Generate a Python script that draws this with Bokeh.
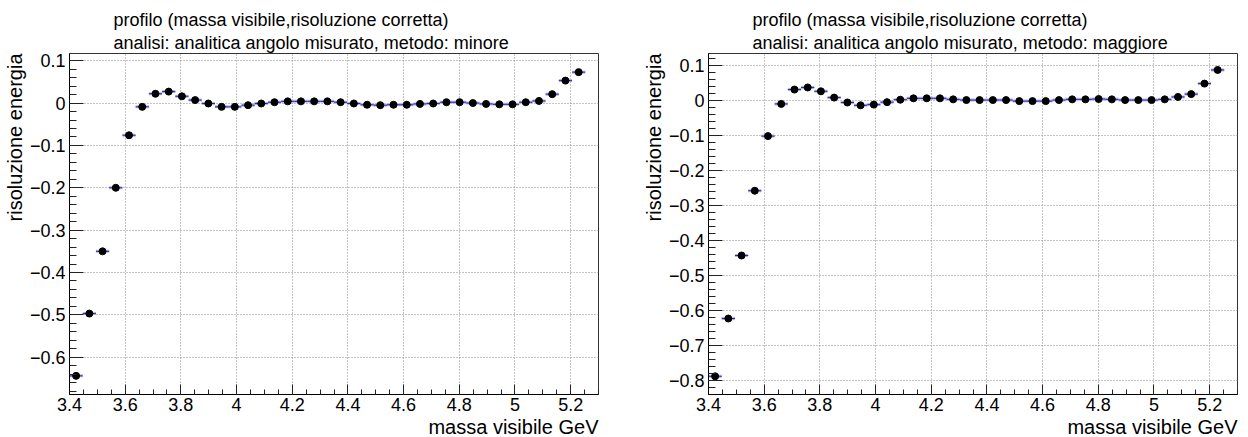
import numpy as np
from bokeh.plotting import figure
from bokeh.layouts import row
from bokeh.models import (ColumnDataSource, Range1d, SingleIntervalTicker,
                          CustomJSTickFormatter, Title)
from bokeh.embed import file_html
from bokeh.resources import INLINE

# ---- texts ----
titolo_1 = "profilo (massa visibile,risoluzione corretta)"
titolo_minore = "analisi: analitica angolo misurato, metodo: minore"
titolo_maggiore = "analisi: analitica angolo misurato, metodo: maggiore"
etichetta_x = "massa visibile GeV"
etichetta_y = "risoluzione energia"

# ---- data: bin centres (GeV) and profile means ----
centri = [3.42375, 3.47125, 3.51875, 3.56625, 3.61375, 3.66125, 3.70875, 3.75625,
          3.80375, 3.85125, 3.89875, 3.94625, 3.99375, 4.04125, 4.08875, 4.13625,
          4.18375, 4.23125, 4.27875, 4.32625, 4.37375, 4.42125, 4.46875, 4.51625,
          4.56375, 4.61125, 4.65875, 4.70625, 4.75375, 4.80125, 4.84875, 4.89625,
          4.94375, 4.99125, 5.03875, 5.08625, 5.13375, 5.18125, 5.22875]
semi_larghezza = 0.02375

ris_minore = [-0.644, -0.497, -0.350, -0.200, -0.076, -0.009, 0.022, 0.027,
              0.016, 0.007, -0.001, -0.009, -0.009, -0.005, -0.001, 0.002,
              0.004, 0.004, 0.004, 0.004, 0.002, -0.001, -0.004, -0.005,
              -0.004, -0.004, -0.002, -0.001, 0.002, 0.002, 0.000, -0.002,
              -0.003, -0.003, 0.002, 0.005, 0.021, 0.053, 0.073]

ris_maggiore = [-0.788, -0.623, -0.443, -0.258, -0.102, -0.010, 0.031, 0.037,
                0.026, 0.008, -0.006, -0.014, -0.012, -0.005, 0.002, 0.006,
                0.006, 0.006, 0.003, 0.001, 0.001, 0.001, 0.001, -0.002,
                -0.002, -0.002, 0.001, 0.003, 0.003, 0.004, 0.003, 0.001,
                0.001, 0.001, 0.003, 0.010, 0.018, 0.048, 0.087]

x_lim = (3.4, 5.3)
y_lim_minore = (-0.688, 0.117)
y_lim_maggiore = (-0.84, 0.134)

FONT = "Liberation Sans"
fmt_code = """
var v = Math.round(tick*100)/100;
var s = (Math.abs(v) < 1e-9) ? "0" : String(v);
return s.replace("-", "\\u2212");
"""


def testo(t, size, **kw):
    return Title(text=t, text_font=FONT, text_font_size=size,
                 text_font_style="normal", text_color="black", **kw)


def pannello(valori, ylim, titolo_2, bl, br):
    p = figure(width=624, height=437, title=None,
               x_range=Range1d(*x_lim), y_range=Range1d(*ylim),
               output_backend="svg", toolbar_location=None,
               min_border_left=bl, min_border_right=br,
               min_border_top=53, min_border_bottom=42,
               background_fill_color="white", border_fill_color="white",
               outline_line_color="#333333", outline_line_width=1)

    p.add_layout(testo(titolo_2, "18px", align="left", offset=44, standoff=2), "above")
    p.add_layout(testo(titolo_1, "18px", align="left", offset=44, standoff=0), "above")
    p.add_layout(testo(etichetta_x, "20px", align="right", offset=0, standoff=0), "below")
    p.add_layout(testo(etichetta_y, "20px", align="right", offset=0, standoff=2), "left")

    xt = SingleIntervalTicker(interval=0.2, num_minor_ticks=4)
    yt = SingleIntervalTicker(interval=0.1, num_minor_ticks=5)
    p.xaxis.ticker = xt
    p.yaxis.ticker = yt
    p.xgrid.ticker = xt
    p.ygrid.ticker = yt
    for ax in (p.xaxis[0], p.yaxis[0]):
        ax.formatter = CustomJSTickFormatter(code=fmt_code)
        ax.major_tick_out = 0
        ax.minor_tick_out = 0
        ax.axis_line_color = "black"
        ax.major_tick_line_color = "#222222"
        ax.minor_tick_line_color = "#222222"
        ax.major_label_text_font = FONT
        ax.major_label_text_font_size = "18px"
        ax.major_label_text_color = "black"
    p.xaxis.major_tick_in = 10
    p.xaxis.minor_tick_in = 5
    p.yaxis.major_tick_in = 14
    p.yaxis.minor_tick_in = 7
    p.xaxis.major_label_standoff = 3
    p.yaxis.major_label_standoff = 4

    for g in (p.xgrid[0], p.ygrid[0]):
        g.grid_line_color = "#8a8a8a"
        g.grid_line_dash = "1 2"
        g.grid_line_width = 1

    x = np.array(centri)
    src = ColumnDataSource(dict(x=x, y=valori,
                                x0=x - semi_larghezza, x1=x + semi_larghezza))
    p.segment(x0="x0", y0="y", x1="x1", y1="y", source=src,
              line_color="#b4b4ec", line_width=3)
    p.segment(x0="x0", y0="y", x1="x1", y1="y", source=src,
              line_color="#2a2aa8", line_width=1)
    p.scatter(x="x", y="y", source=src, size=7, marker="circle",
              fill_color="black", line_color="black")
    return p


p1 = pannello(ris_minore, y_lim_minore, titolo_minore, 69, 26)
p2 = pannello(ris_maggiore, y_lim_maggiore, titolo_maggiore, 84, 11)

layout = row(p1, p2)
open("out.html", "w").write(file_html(layout, INLINE))
